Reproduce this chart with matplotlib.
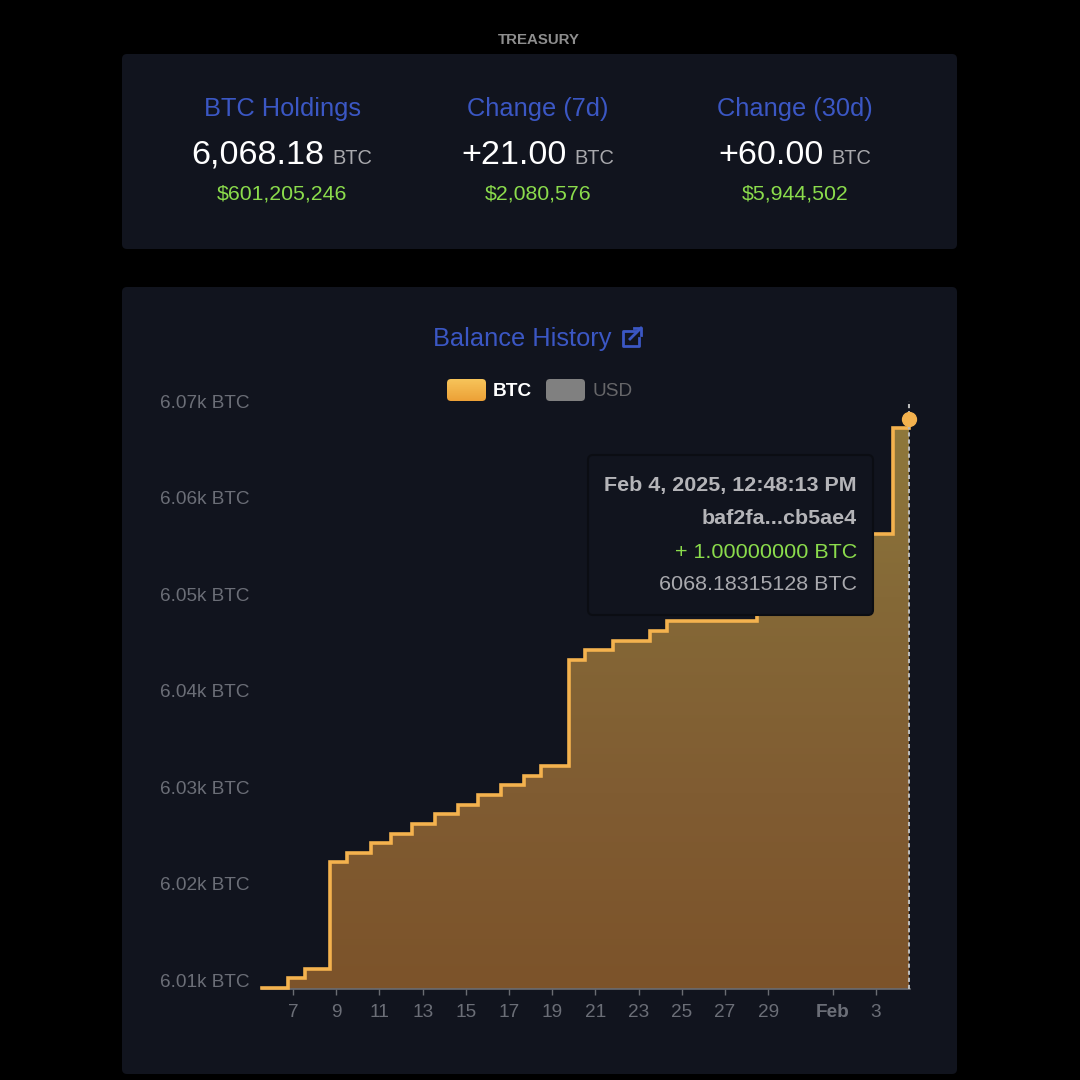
import matplotlib
matplotlib.use('Agg')
import matplotlib.pyplot as plt
import numpy as np
from matplotlib.colors import LinearSegmentedColormap
from matplotlib.patches import FancyBboxPatch

plt.rcParams['font.family'] = ['Liberation Sans', 'DejaVu Sans']

# Balance history: step days (January numbering, Feb 1 = 32) and BTC balance
days = [5.56, 6.75, 7.57, 8.71, 9.49, 10.63, 11.52, 12.52, 13.57, 14.63, 15.58,
        16.62, 17.69, 18.47, 19.79, 20.52, 21.81, 23.53, 24.31, 28.48, 29.5,
        30.3, 30.9, 31.5, 32.1, 32.6, 33.1, 33.6, 34.77, 35.53]
balance = [6009.18, 6010.18, 6011.18, 6022.18, 6023.18, 6024.18, 6025.18, 6026.18,
           6027.18, 6028.18, 6029.18, 6030.18, 6031.18, 6032.18, 6043.18, 6044.18,
           6045.18, 6046.18, 6047.18, 6048.18, 6049.18, 6050.18, 6051.18, 6052.18,
           6053.18, 6054.18, 6055.18, 6056.18, 6067.18, 6068.18]

y_ticks = [6010, 6020, 6030, 6040, 6050, 6060, 6070]
y_labels = ['6.01k BTC', '6.02k BTC', '6.03k BTC', '6.04k BTC', '6.05k BTC', '6.06k BTC', '6.07k BTC']
x_ticks = [7, 9, 11, 13, 15, 17, 19, 21, 23, 25, 27, 29, 32, 34]
x_labels = ['7', '9', '11', '13', '15', '17', '19', '21', '23', '25', '27', '29', 'Feb', '3']

stat_titles = ['BTC Holdings', 'Change (7d)', 'Change (30d)']
stat_values = ['6,068.18', '+21.00', '+60.00']
stat_usd = ['$601,205,246', '$2,080,576', '$5,944,502']

tooltip_lines = ['Feb 4, 2025, 12:48:13 PM', 'baf2fa...cb5ae4', '+ 1.00000000 BTC', '6068.18315128 BTC']

BG = '#000000'
CARD = '#11141e'
BLUE = '#3b57c4'
GREEN = '#8bdc4c'
LINE = '#f4b24e'
SIZE = 1080


def px(size):
    # font size in points for a size given in pixels at dpi 100
    return size * 0.72


def pixel_axes(zorder):
    a = fig.add_axes([0, 0, 1, 1], zorder=zorder)
    a.set_xlim(0, SIZE)
    a.set_ylim(SIZE, 0)
    a.axis('off')
    a.patch.set_alpha(0)
    return a


fig = plt.figure(figsize=(10.8, 10.8), dpi=100, facecolor=BG)

# Background layer with the two cards and the headings
back = pixel_axes(0)
for y0, y1 in [(54, 249), (287, 1074)]:
    back.add_patch(FancyBboxPatch((126, y0 + 4), 827, y1 - y0 - 8,
                                  boxstyle='round,pad=4,rounding_size=5', fc=CARD, ec='none'))

back.text(539, 40, 'TREASURY', color='#8e8e8e', fontsize=px(15), fontweight='bold', ha='center', va='center')

for cx, title, value, usd in zip([282, 538, 795], stat_titles, stat_values, stat_usd):
    back.text(cx, 109, title, color=BLUE, fontsize=px(25.4), ha='center', va='center')
    back.text(cx, 194, usd, color=GREEN, fontsize=px(21.3), ha='center', va='center')
    # value and unit share one centred row
    big = back.text(0, 155, value, color='white', fontsize=px(34.2), ha='left', va='center')
    unit = back.text(0, 159, 'BTC', color='#a9a9ad', fontsize=px(20), ha='left', va='center')
    fig.canvas.draw()
    w1 = big.get_window_extent().width
    w2 = unit.get_window_extent().width
    start = cx - (w1 + 8 + w2) / 2
    big.set_x(start)
    unit.set_x(start + w1 + 8)

# Chart heading with the external-link icon
back.text(522, 339, 'Balance History', color=BLUE, fontsize=px(25.4), ha='center', va='center')
back.plot([636, 623, 623, 639, 639], [331, 331, 346, 346, 338], color=BLUE, lw=2, solid_joinstyle='round')
back.plot([630, 641], [339, 328], color=BLUE, lw=2)
back.plot([633.5, 641, 641], [328, 328, 335], color=BLUE, lw=2)

# Legend swatches
swatch_cmap = LinearSegmentedColormap.from_list('swatch', ['#f7c65c', '#ec9f35'])
sw = FancyBboxPatch((450, 382), 33, 16, boxstyle='round,pad=3,rounding_size=4', fc='none', ec='none')
back.add_patch(sw)
img = back.imshow(np.linspace(0, 1, 64).reshape(-1, 1), cmap=swatch_cmap, extent=(446, 487, 402, 378),
                  aspect='auto', zorder=2)
img.set_clip_path(sw)
back.set_xlim(0, SIZE)
back.set_ylim(SIZE, 0)
back.add_patch(FancyBboxPatch((549, 382), 33, 16, boxstyle='round,pad=3,rounding_size=4', fc='#808080', ec='none'))
back.text(493, 391, 'BTC', color='white', fontsize=px(19), fontweight='bold', ha='left', va='center')
back.text(593, 391, 'USD', color='#666669', fontsize=px(19), ha='left', va='center')

# Balance chart
left, right, top, bottom = 262, 909.5, 401, 989
y_min, y_max = 6009.07, 6070.0
ax = fig.add_axes([left / SIZE, 1 - bottom / SIZE, (right - left) / SIZE, (bottom - top) / SIZE], zorder=1)
ax.patch.set_alpha(0)
ax.set_xlim(5.56, 35.55)
ax.set_ylim(y_min, y_max)

fill = ax.fill_between(days, balance, y_min, step='post', color='none')
fill_cmap = LinearSegmentedColormap.from_list('fill', ['#907a3c', '#856937', '#805c32', '#7c532a'])
grad = ax.imshow(np.linspace(0, 1, 256).reshape(-1, 1), cmap=fill_cmap,
                 extent=(5.56, 35.55, y_min, y_max), aspect='auto', zorder=1)
grad.set_clip_path(fill.get_paths()[0], transform=ax.transData)
ax.set_xlim(5.56, 35.55)
ax.set_ylim(y_min, y_max)

ax.step(days, balance, where='post', color=LINE, lw=2.6, zorder=3, solid_joinstyle='miter', clip_on=False)
ax.vlines(days[-1], y_min, y_max, color='#b9b9b9', lw=1.5, linestyles=(0, (2, 1.4)), zorder=4)
ax.plot(days[-1], balance[-1], 'o', ms=10, color=LINE, zorder=5, clip_on=False)

for side in ['top', 'left', 'right']:
    ax.spines[side].set_visible(False)
ax.spines['bottom'].set_color('#6a6c72')
ax.spines['bottom'].set_linewidth(1.2)

ax.set_yticks(y_ticks, y_labels)
ax.set_xticks(x_ticks, x_labels)
ax.tick_params(axis='y', length=0, pad=9, labelsize=px(19), labelcolor='#6b6e77')
ax.tick_params(axis='x', length=4, width=1, color='#6a6c72', pad=7, labelsize=px(19), labelcolor='#6b6e77')
ax.get_xticklabels()[12].set_fontweight('bold')

# Tooltip above the chart
front = pixel_axes(2)
front.add_patch(FancyBboxPatch((592, 459), 277, 152, boxstyle='round,pad=4,rounding_size=5',
                               fc=CARD, ec='#0b0d13', lw=1.5))
tip_colors = ['#b4b4b8', '#b4b4b8', GREEN, '#a9a9ae']
tip_weights = ['bold', 'bold', 'normal', 'normal']
for y, line, c, w in zip([486, 519, 552, 584], tooltip_lines, tip_colors, tip_weights):
    front.text(857, y, line, color=c, fontweight=w, fontsize=px(21.5), ha='right', va='center')

fig.savefig('out.png', dpi=100, facecolor=BG)
